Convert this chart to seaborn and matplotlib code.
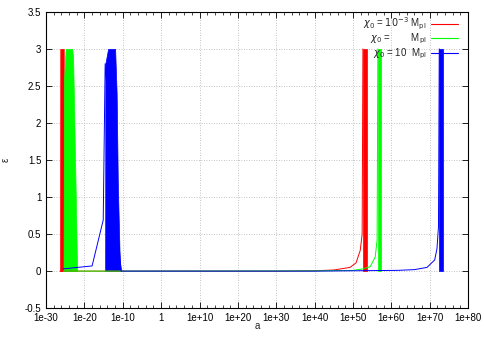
import numpy as np
import pandas as pd
import matplotlib
matplotlib.use("Agg")
import matplotlib.pyplot as plt
import matplotlib.ticker as mticker
from matplotlib.lines import Line2D
import seaborn as sns

# thin curves: log10(a) and epsilon
red_loga = [-26.35, -10, 30, 40, 45, 49.2, 50.8, 51.9, 52.4, 52.6]
red_eps = [0, 0, 0, 0.005, 0.015, 0.05, 0.11, 0.28, 0.5, 3.0]
green_loga = [-25.45, -21.9, -10, 40, 50, 52.6, 54.5, 55.8, 56.3, 56.5]
green_eps = [0, 0, 0, 0.003, 0.01, 0.03, 0.06, 0.19, 0.42, 3.0]
blue_loga = [-25.6, -18.0, -15.1, -14.6, -10.45, 0, 40, 61.5, 66, 69.3, 71.3, 71.9, 72.3, 72.5]
blue_eps = [0.03, 0.07, 0.69, 2.8, 0, 0, 0, 0.01, 0.02, 0.05, 0.15, 0.3, 0.6, 3.0]

# dense oscillation bands (envelopes): log10(a) and upper envelope of epsilon
red_band_loga = [-26.35, -26.3, -25.4, -25.3]
red_band_eps = [0, 3, 3, 0]
green_band_loga = [-25.45, -25.3, -24.9, -23.2, -22.96, -22.44, -21.9]
green_band_eps = [0, 2.6, 3.0, 3.0, 2.9, 1.5, 0]
blue_band_loga = [-14.6, -14.55, -13.84, -12.0, -11.6, -11.3, -10.8, -10.45]
blue_band_eps = [0, 2.8, 3.0, 3.0, 2.4, 1.2, 0.15, 0]
red_late_loga = [52.6, 52.6, 53.6, 53.6]
green_late_loga = [56.5, 56.5, 57.4, 57.4]
blue_late_loga = [72.5, 72.5, 73.5, 73.5]
late_eps = [0, 3, 3, 0]

labels = [r"$\chi_0$ = $10^{-3}$ M$_{\rm pl}$",
          r"$\chi_0$ =        M$_{\rm pl}$",
          r"$\chi_0$ = 10  M$_{\rm pl}$"]
colors = ["#ff0000", "#00ff00", "#0000ff"]

x_ticks = [-30, -20, -10, 0, 10, 20, 30, 40, 50, 60, 70, 80]
y_ticks = [-0.5, 0, 0.5, 1, 1.5, 2, 2.5, 3, 3.5]

sns.set_style("ticks")
plt.rcParams["font.family"] = ["Liberation Sans", "DejaVu Sans"]
plt.rcParams["mathtext.fontset"] = "dejavusans"

fig = plt.figure(figsize=(4.85, 3.39), dpi=100)
ax = fig.add_axes([0.095, 0.091, 0.87, 0.874])
ax.set_xscale("log")

curves = [(red_loga, red_eps), (green_loga, green_eps), (blue_loga, blue_eps)]
bands = [[(red_band_loga, red_band_eps), (red_late_loga, late_eps)],
         [(green_band_loga, green_band_eps), (green_late_loga, late_eps)],
         [(blue_band_loga, blue_band_eps), (blue_late_loga, late_eps)]]

for (lx, ly), bl, c in zip(curves, bands, colors):
    df = pd.DataFrame({"a": 10.0 ** np.array(lx), "eps": ly})
    sns.lineplot(data=df, x="a", y="eps", color=c, lw=0.7,
                 sort=False, estimator=None, ax=ax, legend=False)
    for bx, by in bl:
        ax.fill_between(10.0 ** np.array(bx), 0, by, color=c, lw=0.5, edgecolor=c)

ax.set_xlim(1e-30, 1e80)
ax.set_ylim(-0.5, 3.5)
ax.xaxis.set_major_locator(mticker.FixedLocator([10.0 ** k for k in x_ticks]))
ax.set_xticklabels(["1" if k == 0 else f"1e{k:+d}" if k > 0 else f"1e{k:d}" for k in x_ticks])
ax.xaxis.set_minor_locator(mticker.FixedLocator([10.0 ** k for k in range(-30, 81, 2)]))
ax.xaxis.set_minor_formatter(mticker.NullFormatter())
ax.set_yticks(y_ticks)
ax.set_yticklabels([f"{v:g}" for v in y_ticks])

ax.grid(True, which="major", color="#b0b0b0", ls=(0, (1, 2)), lw=0.6)
ax.tick_params(which="both", direction="in", top=True, right=True, labelsize=7, colors="black")
ax.tick_params(which="major", length=4, width=0.6)
ax.tick_params(which="minor", length=2, width=0.5)
for s in ax.spines.values():
    s.set_linewidth(0.8)
    s.set_color("black")

ax.set_xlabel("a", fontsize=7)
ax.xaxis.set_label_coords(0.5, -0.045)
ax.set_ylabel("ε", fontsize=7)
ax.yaxis.set_label_coords(-0.085, 0.5)

handles = [Line2D([], [], color=c, lw=0.8) for c in colors]
ax.legend(handles, labels, loc="upper right", bbox_to_anchor=(0.985, 1.0), borderaxespad=0,
          frameon=False, markerfirst=False, fontsize=7,
          handlelength=2.8, labelspacing=0.0, handletextpad=0.4)

fig.savefig("out.png", dpi=100)
